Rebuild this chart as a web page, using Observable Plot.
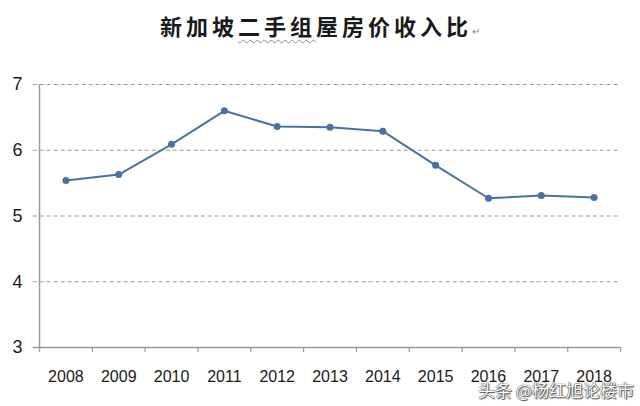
<!DOCTYPE html>
<html>
<head>
<meta charset="utf-8">
<script src="https://cdn.jsdelivr.net/npm/d3@7"></script>
<script src="https://cdn.jsdelivr.net/npm/@observablehq/plot@0.6"></script>
<style>
  html, body { margin: 0; padding: 0; background: #ffffff; }
  #wrap { position: relative; width: 640px; height: 406px; overflow: hidden; }
  #title { height: 50px; box-sizing: border-box; padding-top: 10px; text-align: center;
    font-family: "Noto Sans CJK SC", sans-serif; font-weight: bold; font-size: 22px;
    letter-spacing: 4px; color: #1a1a1a; line-height: 30px; }
  #title .wavy { text-decoration: underline wavy #8a8aa8; text-decoration-thickness: 1px; text-underline-offset: 4px; }
  #title .ret { font-size: 10px; color: #888; font-weight: normal; letter-spacing: 0; }
  #mark { position: absolute; left: 478px; top: 377px; font-family: "Noto Sans CJK SC", sans-serif;
    font-size: 17px; color: #ffffff; white-space: nowrap;
    text-shadow: 0 0 1px #333, 0 0 1px #333, 1px 1px 1px #555; }
</style>
</head>
<body>
<div id="wrap">
  <div id="title">新加坡<span class="wavy">二手组</span>屋房价收入比<span class="ret">↵</span></div>
  <div id="chart"></div>
  <div id="mark">头条 @杨红旭论楼市</div>
</div>
<script>
const years = [2008, 2009, 2010, 2011, 2012, 2013, 2014, 2015, 2016, 2017, 2018];
const ratios = [5.54, 5.63, 6.09, 6.60, 6.36, 6.35, 6.29, 5.77, 5.27, 5.31, 5.28];
const yTicks = [3, 4, 5, 6, 7];
const gridValues = [4, 5, 6, 7];

const data = years.map((y, i) => ({year: y, ratio: ratios[i]}));
const boundaries = years.map(y => y - 0.5).concat([years[years.length - 1] + 0.5]);

const lineColor = "#4a72a0";
const axisColor = "#9a9a9a";

const chart = Plot.plot({
  width: 640,
  height: 356,
  marginTop: 34,
  marginBottom: 59,
  marginLeft: 39,
  marginRight: 20,
  style: {fontFamily: "'Liberation Sans', Arial, sans-serif", fontSize: "16px", color: "#1a1a1a", background: "transparent"},
  x: {type: "linear", domain: [years[0] - 0.5, years[years.length - 1] + 0.5], label: null},
  y: {domain: [3, 7], label: null},
  marks: [
    Plot.ruleY(gridValues, {x1: years[0] - 0.62, x2: years[years.length - 1] + 0.5, stroke: axisColor, strokeWidth: 1.2, strokeDasharray: "4,3"}),
    Plot.ruleY([3], {x1: years[0] - 0.62, x2: years[years.length - 1] + 0.5, stroke: axisColor, strokeWidth: 1.5}),
    Plot.ruleX([years[0] - 0.5], {y1: 3, y2: 7, stroke: axisColor, strokeWidth: 1.5}),
    Plot.axisX(boundaries, {tickSize: 5, tickFormat: () => "", stroke: axisColor, strokeWidth: 1.2, label: null}),
    Plot.axisX(years, {tickSize: 0, tickPadding: 23, tickFormat: d => String(d), fontSize: 16, label: null}),
    Plot.axisY(yTicks, {tickSize: 0, tickPadding: 17, tickFormat: d => String(d), fontSize: 18, label: null}),
    Plot.line(data, {x: "year", y: "ratio", stroke: lineColor, strokeWidth: 2}),
    Plot.dot(data, {x: "year", y: "ratio", r: 3.5, fill: lineColor, stroke: "none"})
  ]
});
document.getElementById("chart").appendChild(chart);
</script>
</body>
</html>
